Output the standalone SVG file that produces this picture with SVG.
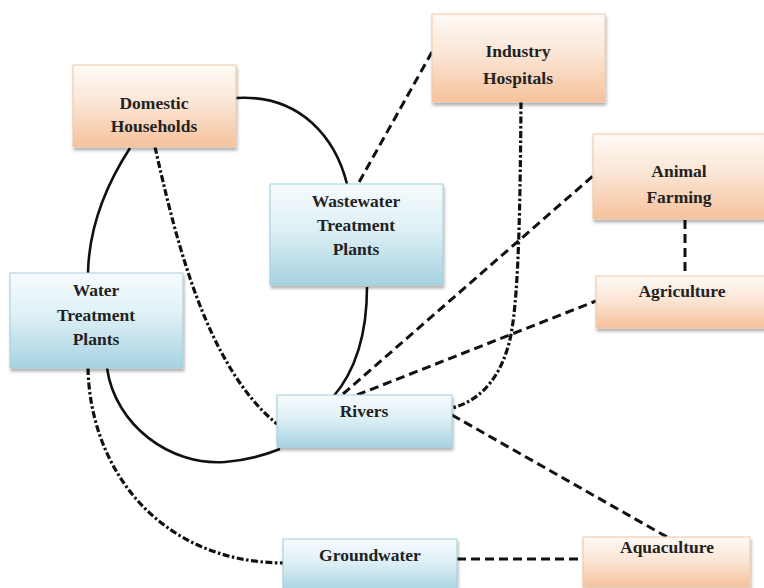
<svg xmlns="http://www.w3.org/2000/svg" width="764" height="588" viewBox="0 0 764 588">
<defs>
<linearGradient id="gOr" x1="0" y1="0" x2="0" y2="1">
<stop offset="0" stop-color="#fefaf6"/><stop offset="0.45" stop-color="#fbe6d6"/><stop offset="1" stop-color="#f5c29c"/>
</linearGradient>
<linearGradient id="gBl" x1="0" y1="0" x2="0" y2="1">
<stop offset="0" stop-color="#f6fbfd"/><stop offset="0.45" stop-color="#def0f5"/><stop offset="1" stop-color="#a6d2e0"/>
</linearGradient>
<filter id="sh" x="-10%" y="-10%" width="130%" height="140%">
<feDropShadow dx="1" dy="3" stdDeviation="1.5" flood-color="#000" flood-opacity="0.3"/>
</filter>
</defs>
<style>
.or{fill:url(#gOr);stroke:#f0c7a6;stroke-width:1;filter:url(#sh)}
.bl{fill:url(#gBl);stroke:#a3cddb;stroke-width:1;filter:url(#sh)}
text{font-family:"Liberation Serif","Times New Roman",serif;font-weight:bold;font-size:17.5px;fill:#222;text-anchor:middle}
.c{fill:none;stroke:#111;stroke-width:2.6}
.dash{stroke-dasharray:9 5;stroke-width:3}
.dd{stroke-dasharray:7 2.5 2.5 2.5;stroke-width:3.2}
</style>
<rect width="764" height="588" fill="#fff"/>
<g id="connectors">
<path class="c" d="M236,98 C302,94 336,140 347,184"/>
<path class="c" d="M367,287 C367,340 352,375 333,397"/>
<path class="c" d="M130,148 C106,185 89,225 88,273"/>
<path class="c" d="M107,368 C115,425 170,466 225,462 C250,460 265,455 280,449"/>
<path class="c dd" d="M155,147 C175,235 205,365 277,424"/>
<path class="c dd" d="M88,368 C90,470 160,562 283,563"/>
<path class="c dd" d="M521,102 C520,230 518,320 507,350 C496,385 475,402 452,408"/>
<path class="c dash" d="M432,52 L358,184"/>
<path class="c dash" d="M343,394 L594,175"/>
<path class="c dash" d="M357,395 L596,301"/>
<path class="c dash" d="M452,415 L667,537"/>
<path class="c dash" d="M457,559 L583,559"/>
<path class="c dash" d="M685,220 L685,276"/>
</g>
<g id="domestic">
<rect class="or" x="73" y="65" width="163" height="82"/>
<text x="154" y="109">Domestic</text>
<text x="154" y="132">Households</text>
</g>
<g id="wastewater">
<rect class="bl" x="270" y="184" width="173" height="101"/>
<text x="356" y="207">Wastewater</text>
<text x="356" y="231">Treatment</text>
<text x="356" y="255">Plants</text>
</g>
<g id="watertreatment">
<rect class="bl" x="10" y="273" width="173" height="95"/>
<text x="96" y="296">Water</text>
<text x="96" y="321">Treatment</text>
<text x="96" y="345">Plants</text>
</g>
<g id="industry">
<rect class="or" x="432" y="14" width="173" height="88"/>
<text x="518" y="57">Industry</text>
<text x="518" y="84">Hospitals</text>
</g>
<g id="animal">
<rect class="or" x="593" y="134" width="172" height="85"/>
<text x="679" y="177">Animal</text>
<text x="679" y="203">Farming</text>
</g>
<g id="agriculture">
<rect class="or" x="596" y="276" width="172" height="52"/>
<text x="682" y="297">Agriculture</text>
</g>
<g id="rivers">
<rect class="bl" x="277" y="395" width="175" height="52"/>
<text x="364" y="417">Rivers</text>
</g>
<g id="groundwater">
<rect class="bl" x="283" y="539" width="174" height="52"/>
<text x="370" y="561">Groundwater</text>
</g>
<g id="aquaculture">
<rect class="or" x="583" y="537" width="167" height="50"/>
<text x="667" y="553">Aquaculture</text>
</g>
</svg>
